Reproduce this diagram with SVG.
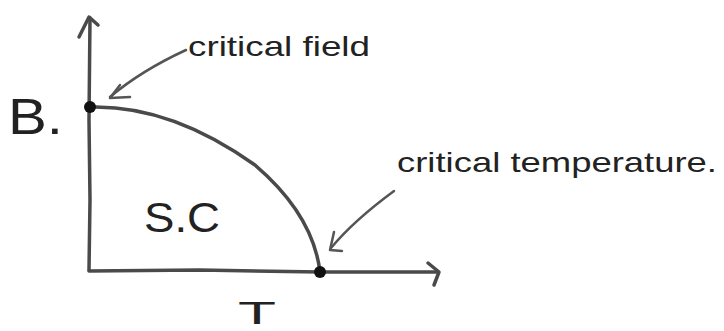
<svg xmlns="http://www.w3.org/2000/svg" width="724" height="331" viewBox="0 0 724 331">
<style>
.ln{fill:none;stroke:#4a4a4a;stroke-width:3.5;stroke-linecap:round;stroke-linejoin:round}
.ar{fill:none;stroke:#555;stroke-width:2.5;stroke-linecap:round;stroke-linejoin:round}
.tx{font-family:"Liberation Sans",sans-serif;fill:#222}
.dot{fill:#111}
</style>
<rect width="724" height="331" fill="#fff"/>
<g id="axes">
<path class="ln" d="M89,270 L90,200 L89,120 L90,18"/>
<path class="ln" d="M79,37 L89,17 L98,25"/>
<path class="ln" d="M89,271 L200,270 L320,272 L438,272"/>
<path class="ln" d="M428,263 L439,272 L434,285"/>
</g>
<g id="curve">
<path class="ln" d="M90,107 C160,105 220,140 255,165 C290,195 315,230 320,272"/>
</g>
<g id="critical-field-point">
<circle class="dot" cx="90" cy="107" r="6"/>
</g>
<g id="critical-temperature-point">
<circle class="dot" cx="320" cy="272" r="6"/>
</g>
<g id="connectors">
<path class="ar" d="M186,50 C160,62 130,80 110,97"/>
<path class="ar" d="M120,85 L110,98 L130,97"/>
<path class="ar" d="M394,191 C375,205 350,225 331,248"/>
<path class="ar" d="M334,232 L330,250 L342,251"/>
</g>
<g id="labels">
<text class="tx" x="188" y="56" font-size="28" textLength="182" lengthAdjust="spacingAndGlyphs">critical  field</text>
<text class="tx" x="8" y="134" font-size="50" textLength="55" lengthAdjust="spacingAndGlyphs">B.</text>
<text class="tx" x="397" y="172" font-size="28" textLength="320" lengthAdjust="spacingAndGlyphs">critical  temperature.</text>
<text class="tx" x="144" y="232" font-size="42" textLength="76" lengthAdjust="spacingAndGlyphs" fill="#444">S.C</text>
<text class="tx" x="238" y="324" font-size="32" textLength="38" lengthAdjust="spacingAndGlyphs">T</text>
</g>
</svg>
